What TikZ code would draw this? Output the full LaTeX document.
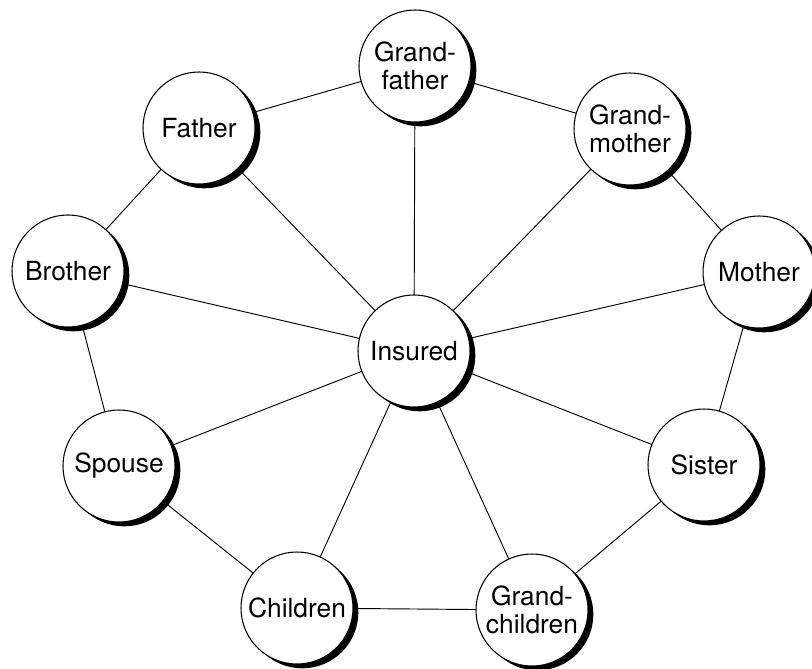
\documentclass[tikz,border=0pt]{standalone}
\usepackage{fontspec}
\setmainfont{TeX Gyre Heros}
\usetikzlibrary{shadows,backgrounds}
\tikzset{
  person/.style={circle, draw=black, line width=0.9pt, fill=white,
    minimum size=3.36cm, inner sep=0pt, align=center,
    font=\fontsize{22.5}{24}\selectfont,
    drop shadow={shadow xshift=0.16cm, shadow yshift=-0.13cm, fill=black, opacity=1}},
  link/.style={draw=black, line width=0.8pt}
}
\begin{document}
\begin{tikzpicture}[x=0.03cm,y=-0.03cm]
\useasboundingbox (0,0) rectangle (812,668);
\node[person] (gf)  at (415,66)  {Grand-\\father};
\node[person] (fa)  at (199,128) {Father};
\node[person] (gm)  at (630,129) {Grand-\\mother};
\node[person] (br)  at (68,271)  {Brother};
\node[person] (mo)  at (759,272) {Mother};
\node[person] (ins) at (414,351) {Insured};
\node[person] (sp)  at (119,466) {Spouse};
\node[person] (si)  at (704,465) {Sister};
\node[person] (ch)  at (297,608) {Children};
\node[person] (gc)  at (532,610) {Grand-\\children};
\begin{pgfonlayer}{background}
\foreach \a/\b in {fa/gf, gf/gm, gm/mo, mo/si, si/gc, gc/ch, ch/sp, sp/br, br/fa,
                   ins/gf, ins/fa, ins/gm, ins/br, ins/mo, ins/sp, ins/si, ins/ch, ins/gc}
  \draw[link] (\a.center) -- (\b.center);
\end{pgfonlayer}
\end{tikzpicture}
\end{document}
